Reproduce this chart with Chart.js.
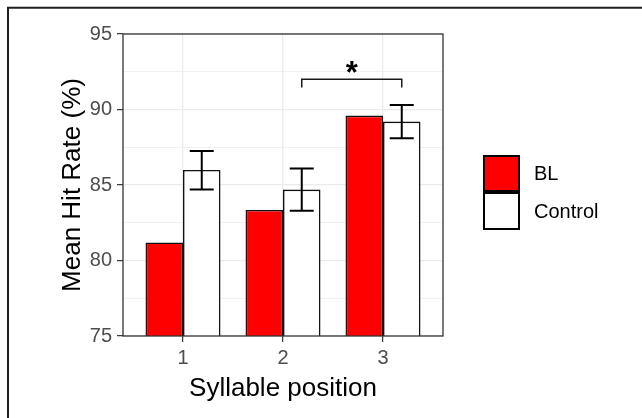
<!DOCTYPE html>
<html>
<head>
<meta charset="utf-8">
<script src="https://cdn.jsdelivr.net/npm/chart.js@4.4.1/dist/chart.umd.min.js"></script>
<style>
  body { margin: 0; background: #fff; }
  canvas { display: block; }
</style>
</head>
<body>
<canvas id="chart" width="642" height="418"></canvas>
<script>
const positions = [1, 2, 3];
const seriesNames = ['BL', 'Control'];
const blValues = [81.2, 83.35, 89.6];
const controlValues = [86.0, 84.7, 89.2];
const controlLow = [84.7, 83.3, 88.1];
const controlHigh = [87.25, 86.1, 90.3];
const yTicks = [75, 77.5, 80, 82.5, 85, 87.5, 90, 92.5, 95];
// significance bracket between the Control bars of position 2 and 3
const bracketFrom = 2;
const bracketTo = 3;
const bracketY = 92;
const bracketLegY = 91.45;
const bracketLabel = '*';

const FONT = "'Liberation Sans', Arial, sans-serif";

const extras = {
    id: 'extras',
    beforeDraw(chart) {
        const ctx = chart.ctx;
        // outer frame (top and left edges only, as in the cropped figure)
        ctx.save();
        ctx.strokeStyle = '#231f20';
        ctx.lineWidth = 2;
        ctx.beginPath();
        ctx.moveTo(8, 418);
        ctx.lineTo(8, 7.7);
        ctx.lineTo(642, 7.7);
        ctx.stroke();
        ctx.restore();
    },
    afterDatasetsDraw(chart) {
        const { ctx, chartArea: a, scales: { y } } = chart;
        const ctrl = chart.getDatasetMeta(1).data;
        ctx.save();

        // error bars on the Control bars
        ctx.strokeStyle = '#000';
        ctx.lineWidth = 2;
        ctrl.forEach((bar, i) => {
            const cx = bar.x;
            const half = 12;
            const top = y.getPixelForValue(controlHigh[i]);
            const bot = y.getPixelForValue(controlLow[i]);
            ctx.beginPath();
            ctx.moveTo(cx, top); ctx.lineTo(cx, bot);
            ctx.moveTo(cx - half, top); ctx.lineTo(cx + half, top);
            ctx.moveTo(cx - half, bot); ctx.lineTo(cx + half, bot);
            ctx.stroke();
        });

        // significance bracket
        const x1 = ctrl[bracketFrom - 1].x;
        const x2 = ctrl[bracketTo - 1].x;
        const by = y.getPixelForValue(bracketY);
        const ly = y.getPixelForValue(bracketLegY);
        ctx.lineWidth = 1.5;
        ctx.strokeStyle = '#1a1a1a';
        ctx.beginPath();
        ctx.moveTo(x1, ly); ctx.lineTo(x1, by); ctx.lineTo(x2, by); ctx.lineTo(x2, ly);
        ctx.stroke();
        ctx.fillStyle = '#000';
        ctx.font = 'bold 31px ' + FONT;
        ctx.textAlign = 'center';
        ctx.textBaseline = 'alphabetic';
        ctx.fillText(bracketLabel, (x1 + x2) / 2, by + 4);

        // panel border
        ctx.strokeStyle = '#333';
        ctx.lineWidth = 1.3;
        ctx.strokeRect(a.left, a.top, a.right - a.left, a.bottom - a.top);

        // legend
        const keys = [[156, 191], [193, 229]];
        chart.data.datasets.forEach((ds, i) => {
            const [t, b] = keys[i];
            ctx.fillStyle = ds.backgroundColor;
            ctx.fillRect(484, t, 35, b - t);
            ctx.strokeStyle = '#000';
            ctx.lineWidth = 2;
            ctx.strokeRect(484, t, 35, b - t);
            ctx.fillStyle = '#000';
            ctx.font = '20px ' + FONT;
            ctx.textAlign = 'left';
            ctx.textBaseline = 'middle';
            ctx.fillText(ds.label, 534, (t + b) / 2 + 1);
        });
        ctx.restore();
    }
};

new Chart(document.getElementById('chart'), {
    type: 'bar',
    data: {
        datasets: [
            {
                label: seriesNames[0],
                data: positions.map((p, i) => ({ x: p, y: blValues[i] })),
                backgroundColor: '#ff0000',
                borderColor: '#111',
                borderWidth: 1.6,
                borderSkipped: false
            },
            {
                label: seriesNames[1],
                data: positions.map((p, i) => ({ x: p, y: controlValues[i] })),
                backgroundColor: '#ffffff',
                borderColor: '#111',
                borderWidth: 1.6,
                borderSkipped: false
            }
        ]
    },
    options: {
        responsive: false,
        animation: false,
        categoryPercentage: 0.75,
        barPercentage: 1,
        layout: { padding: { left: 0, right: 199, top: 34, bottom: 0 } },
        plugins: { legend: { display: false }, tooltip: { enabled: false } },
        scales: {
            x: {
                type: 'linear',
                min: 0.4,
                max: 3.6,
                offset: false,
                afterBuildTicks: s => { s.ticks = positions.map(v => ({ value: v })); },
                afterFit: s => { s.height = 82; },
                ticks: {
                    autoSkip: false,
                    color: '#4d4d4d',
                    font: { family: FONT, size: 20 },
                    padding: 4,
                    callback: v => String(v)
                },
                grid: {
                    offset: false,
                    color: '#ebebeb',
                    lineWidth: 1.3,
                    tickColor: '#333',
                    tickLength: 6,
                    tickWidth: 1.2
                },
                border: { display: false },
                title: {
                    display: true,
                    text: 'Syllable position',
                    color: '#000',
                    font: { family: FONT, size: 26 },
                    padding: { bottom: 14 }
                }
            },
            y: {
                min: 75,
                max: 95,
                afterBuildTicks: s => { s.ticks = yTicks.map(v => ({ value: v })); },
                afterFit: s => { s.width = 123; },
                ticks: {
                    autoSkip: false,
                    color: '#4d4d4d',
                    font: { family: FONT, size: 20 },
                    padding: 5,
                    callback: v => (v % 5 === 0 ? String(v) : '')
                },
                grid: {
                    color: '#ebebeb',
                    lineWidth: c => (c.tick && c.tick.value % 5 === 0 ? 1.3 : 0.7),
                    tickColor: c => (c.tick && c.tick.value % 5 === 0 ? '#333' : 'rgba(0,0,0,0)'),
                    tickLength: 6,
                    tickWidth: 1.2
                },
                border: { display: false },
                title: {
                    display: true,
                    text: 'Mean Hit Rate (%)',
                    color: '#000',
                    font: { family: FONT, size: 26 },
                    padding: { top: 57 }
                }
            }
        }
    },
    plugins: [extras]
});
</script>
</body>
</html>
